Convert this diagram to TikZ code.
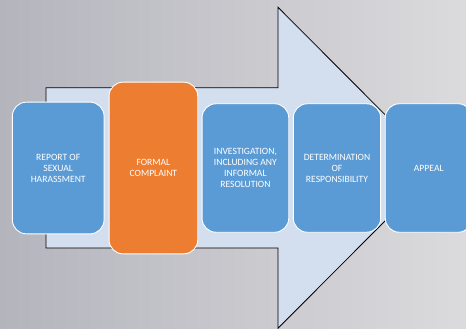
\documentclass[tikz,border=0pt]{standalone}
\usepackage{fontspec}
\setmainfont{Carlito}
\usepackage{xcolor}
\usepackage{tikz}
\usetikzlibrary{positioning, calc}
\definecolor{bgleft}{RGB}{180,180,189}
\definecolor{bgright}{RGB}{219,219,221}
\definecolor{arrowfill}{RGB}{211,222,239}
\definecolor{stepblue}{RGB}{91,155,213}
\definecolor{steporange}{RGB}{237,125,49}

\begin{document}
\begin{tikzpicture}[
    x=1pt, y=-1pt,
    node distance=4.6pt,
    stage/.style={rectangle, draw=white, line width=0.9pt, rounded corners=14pt, fill=stepblue, text=white, align=center, outer sep=0pt, minimum width=87pt, minimum height=128.5pt, font=\fontsize{9.6}{11}\selectfont}
]

% background
\useasboundingbox (0,0) rectangle (466,329);
\clip (0,0) rectangle (466,329);
\shade[left color=bgleft, right color=bgright] (0,0) rectangle (466,329);

% big arrow behind the stages
\coordinate (tail top) at (46,87.7);
\coordinate (tail bot) at (46,248);
\coordinate (tip) at (438,167.8);
\filldraw[fill=arrowfill, draw=black, line width=0.8pt]
    (tail top) -- (278,87.7) -- (278,7.3) -- (tip) -- (278,328.3) -- (278,248) -- (tail bot) -- cycle;

\node[stage, minimum width=91.7pt, minimum height=131.7pt] (report) at (58.2,168) {REPORT OF\\SEXUAL\\HARASSMENT};

\node[stage, fill=steporange, minimum width=88.7pt, minimum height=171.7pt, right=5pt of report] (formal) {FORMAL\\COMPLAINT};

\node[stage, minimum width=86.7pt, right=4.3pt of formal] (invest) {INVESTIGATION,\\INCLUDING ANY\\INFORMAL\\RESOLUTION};

\node[stage, minimum width=87.3pt, right=of invest] (determ) {DETERMINATION\\OF\\RESPONSIBILITY};

\node[stage, right=of determ] (appeal) {APPEAL};

\end{tikzpicture}
\end{document}
